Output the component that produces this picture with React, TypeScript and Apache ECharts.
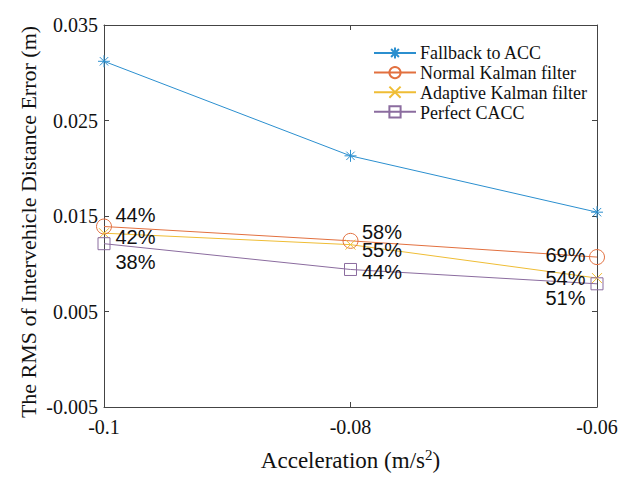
import React, { useEffect, useRef } from "react";
import * as echarts from "echarts";

const accelerations = [-0.1, -0.08, -0.06];
const fallbackRms = [0.0312, 0.0213, 0.0154];
const normalRms = [0.0139, 0.0124, 0.0107];
const adaptiveRms = [0.0132, 0.012, 0.0085];
const perfectRms = [0.0121, 0.0094, 0.0079];
const normalPct = ["44%", "58%", "69%"];
const adaptivePct = ["42%", "55%", "54%"];
const perfectPct = ["38%", "44%", "51%"];
const seriesNames = ["Fallback to ACC", "Normal Kalman filter", "Adaptive Kalman filter", "Perfect CACC"];
const yTicks = { min: -0.005, max: 0.035, interval: 0.01 };
const xTicks = { min: -0.1, max: -0.06, interval: 0.02 };
const yTitle = "The RMS of Intervehicle Distance Error (m)";

const STAR = "path://M0,-10L0,10M-10,0L10,0M-7,-7L7,7M-7,7L7,-7";
const CROSS = "path://M-10,-10L10,10M-10,10L10,-10";

const serif = "Liberation Serif";
const sans = "Liberation Sans";

type LabelPos = [string, [number, number]];
const normalLabelLayout: LabelPos[] = [["right", [0, -12]], ["right", [0, -9]], ["left", [0, -2]]];
const adaptiveLabelLayout: LabelPos[] = [["right", [0, 4]], ["right", [0, 5]], ["left", [0, 0]]];
const perfectLabelLayout: LabelPos[] = [["right", [0, 18]], ["right", [0, 3]], ["left", [0, 14]]];

const LEGEND_LEFT = 373;
const LEGEND_TOP = 46;
const LEGEND_ROW = 20;

function makeSeries(
  name: string,
  values: number[],
  color: string,
  symbol: string,
  symbolSize: number,
  pct?: string[],
  layout?: LabelPos[]
) {
  const dist = 11 - symbolSize / 2;
  return {
    name,
    type: "line",
    symbol,
    symbolSize,
    showAllSymbol: true,
    color,
    lineStyle: { color, width: 1 },
    itemStyle: { color: "transparent", borderColor: color, borderWidth: 1 },
    emphasis: { disabled: true },
    data: values.map((v, i) => {
      const item: any = { value: [accelerations[i], v] };
      if (pct && layout) {
        item.label = {
          show: true,
          formatter: pct[i],
          position: layout[i][0],
          offset: layout[i][1],
          distance: dist,
          fontFamily: sans,
          fontSize: 20,
          color: "#111",
        };
      }
      return item;
    }),
  };
}

export default function App() {
  const ref = useRef<HTMLDivElement>(null);
  useEffect(() => {
    if (!ref.current) return;
    const chart = echarts.init(ref.current, undefined, { renderer: "svg" });
    const axisLine = { show: true, onZero: false, lineStyle: { color: "#444", width: 1 } };
    const tick = { show: true, inside: true, length: 5, lineStyle: { color: "#444" } };
    const yFmt = (v: number) => v.toFixed(3);
    const xFmt = (v: number) => String(parseFloat(v.toFixed(2)));
    const legendTexts = seriesNames.map((n, i) => ({
      type: "text",
      x: LEGEND_LEFT + 47,
      y: LEGEND_TOP + 7 + i * LEGEND_ROW,
      style: {
        text: n,
        fontFamily: serif,
        fontSize: 18,
        fill: "#111",
        align: "left",
        verticalAlign: "middle",
      },
    }));
    chart.setOption({
      animation: false,
      backgroundColor: "#fff",
      grid: { left: 104, right: 35, top: 25, bottom: 69, containLabel: false },
      legend: {
        orient: "vertical",
        left: LEGEND_LEFT,
        top: LEGEND_TOP,
        padding: 0,
        itemWidth: 42,
        itemHeight: 14,
        itemGap: LEGEND_ROW - 14,
        formatter: () => "",
        selectedMode: false,
        data: seriesNames,
      },
      graphic: [
        {
          type: "text",
          x: 28,
          y: 222,
          rotation: Math.PI / 2,
          style: {
            text: yTitle,
            fontFamily: serif,
            fontSize: 22,
            fill: "#111",
            align: "center",
            verticalAlign: "middle",
          },
        },
        ...legendTexts,
      ],
      xAxis: [
        {
          type: "value",
          min: xTicks.min,
          max: xTicks.max,
          interval: xTicks.interval,
          axisLine,
          axisTick: tick,
          splitLine: { show: false },
          axisLabel: { formatter: xFmt, fontFamily: serif, fontSize: 20, color: "#111", margin: 10 },
          name: "{a|Acceleration (m/s}{s|2}{a|)}",
          nameLocation: "middle",
          nameGap: 40,
          nameTextStyle: {
            rich: {
              a: { fontFamily: serif, fontSize: 23, color: "#111", verticalAlign: "bottom" },
              s: { fontFamily: serif, fontSize: 15, color: "#111", verticalAlign: "top", padding: [0, 0, 10, 0] },
            },
          },
        },
        {
          type: "value",
          position: "top",
          min: xTicks.min,
          max: xTicks.max,
          interval: xTicks.interval,
          axisLine,
          axisTick: tick,
          axisLabel: { show: false },
          splitLine: { show: false },
        },
      ],
      yAxis: [
        {
          type: "value",
          min: yTicks.min,
          max: yTicks.max,
          interval: yTicks.interval,
          axisLine,
          axisTick: tick,
          splitLine: { show: false },
          axisLabel: { formatter: yFmt, fontFamily: serif, fontSize: 20, color: "#111", margin: 6 },
        },
        {
          type: "value",
          position: "right",
          min: yTicks.min,
          max: yTicks.max,
          interval: yTicks.interval,
          axisLine,
          axisTick: tick,
          axisLabel: { show: false },
          splitLine: { show: false },
        },
      ],
      series: [
        makeSeries(seriesNames[0], fallbackRms, "#2b8fcf", STAR, 12),
        makeSeries(seriesNames[1], normalRms, "#e2703f", "circle", 15, normalPct, normalLabelLayout),
        makeSeries(seriesNames[2], adaptiveRms, "#efbd35", CROSS, 10, adaptivePct, adaptiveLabelLayout),
        makeSeries(seriesNames[3], perfectRms, "#8b6c9f", "rect", 12, perfectPct, perfectLabelLayout),
      ],
    });
    return () => chart.dispose();
  }, []);
  return <div ref={ref} style={{ position: "fixed", left: 0, top: 0, width: 632, height: 477 }} />;
}
